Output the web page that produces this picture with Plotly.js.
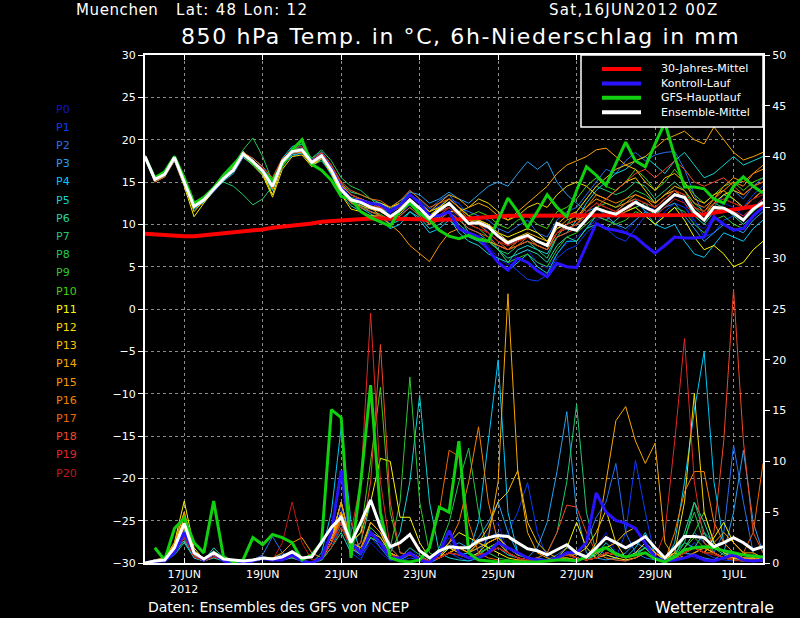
<!DOCTYPE html>
<html><head><meta charset="utf-8">
<script src="https://cdn.plot.ly/plotly-3.0.1.min.js"></script>
<style>html,body{margin:0;padding:0;background:#000;}#c{width:800px;height:618px;}</style>
</head><body><div id="c"></div>
<script>
// ---- time axis (6-hourly, 16JUN2012 00Z .. 1JUL2012 18Z) ----
const startUTC = Date.UTC(2012,5,16,0);
const nSteps = 64;
const times = [];
for (let i=0;i<nSteps;i++){ times.push(new Date(startUTC+i*6*3600e3).toISOString().slice(0,16).replace('T',' ')); }
const tickDates = ['2012-06-17','2012-06-19','2012-06-21','2012-06-23','2012-06-25','2012-06-27','2012-06-29','2012-07-01'];
const tickLabels = ['17JUN<br>2012','19JUN','21JUN','23JUN','25JUN','27JUN','29JUN','1JUL'];
const memberNames = ['P0','P1','P2','P3','P4','P5','P6','P7','P8','P9','P10','P11','P12','P13','P14','P15','P16','P17','P18','P19','P20'];
const memberColors = ['#1414c8','#0a3cf5','#2870f0','#28a0f0','#00c8f8','#14d2d2','#20d8a0','#20c870','#20c850','#30c830','#40d010','#f8f800','#f8d800','#f8c000','#f8a800','#f89800','#f88000','#f06800','#f04828','#e02828','#c01818'];
const legendNames = ['30-Jahres-Mittel','Kontroll-Lauf','GFS-Hauptlauf','Ensemble-Mittel'];
const legendColors = ['#ff0000','#2a14ff','#10d010','#ffffff'];

// ---- 850 hPa temperature, members ----
const tP0=[18.1,15.2,15.8,17.8,15.2,12.3,13.0,14.0,15.5,16.6,18.0,17.6,16.0,14.2,17.0,18.9,19.2,17.0,17.8,16.0,14.5,13.2,12.1,11.5,11.0,10.2,11.0,12.3,11.5,10.0,11.0,12.0,10.5,9.5,9.0,7.5,6.0,5.2,6.5,7.0,5.5,4.8,6.5,7.8,8.5,9.5,10.5,11.0,10.0,9.0,10.5,11.5,12.0,13.0,14.0,12.5,10.0,9.5,11.0,12.5,12.0,11.0,12.0,13.0];
const tP1=[18.0,15.4,16.0,18.0,14.8,11.9,12.8,14.2,15.3,16.2,18.5,17.2,16.5,14.8,17.6,18.4,18.6,17.6,18.4,16.8,13.8,12.5,12.8,12.4,12.0,11.2,12.3,13.5,12.8,11.5,12.2,13.0,12.5,11.0,10.5,9.0,7.0,5.5,4.5,3.5,3.3,4.0,6.0,7.0,7.5,9.0,10.0,9.5,8.5,8.0,9.5,11.0,10.0,11.5,12.5,12.0,10.5,8.5,9.0,10.5,11.0,12.0,13.5,14.5];
const tP2=[17.9,15.3,15.9,17.7,15.1,12.2,13.1,14.3,15.6,16.5,18.2,17.8,16.8,15.2,17.2,18.0,18.5,17.8,18.6,17.0,14.6,13.5,13.0,12.6,12.5,11.8,12.5,14.0,13.0,11.8,12.8,13.5,12.0,11.5,11.0,10.5,9.5,9.0,9.8,10.5,9.0,8.5,10.5,11.5,12.0,13.5,15.0,16.5,16.0,17.5,18.5,17.5,18.2,18.5,18.6,16.5,13.5,11.0,12.0,13.5,14.0,13.0,14.5,15.5];
const tP3=[18.2,15.1,15.7,17.8,14.9,12.0,12.7,13.9,15.2,16.3,18.4,17.5,16.2,14.0,17.5,18.8,19.0,17.2,18.0,16.2,14.0,13.0,12.8,12.2,11.8,11.5,12.5,13.8,13.5,12.5,13.0,13.8,13.0,12.5,13.5,14.5,15.0,14.5,16.0,17.4,16.5,17.4,15.0,13.5,12.5,11.5,12.0,11.0,10.0,9.5,10.5,11.5,11.0,12.0,12.5,11.0,9.5,8.0,9.0,10.0,9.5,9.0,10.5,11.5];
const tP4=[18.0,15.5,16.1,18.1,15.3,12.4,13.2,14.4,15.7,16.8,18.6,17.3,16.0,14.4,17.8,19.2,19.5,17.5,18.3,16.5,14.3,12.7,12.0,11.2,10.5,9.5,10.0,11.5,10.5,9.0,9.5,10.5,9.5,8.5,8.0,7.0,5.5,4.5,5.5,6.5,5.0,4.2,6.5,8.0,8.0,9.5,11.0,10.5,11.5,12.5,13.0,11.5,10.0,9.5,10.0,8.0,6.5,6.1,7.5,9.0,8.5,8.0,9.5,10.5];
const tP5=[17.8,15.2,15.8,17.6,14.7,11.8,12.6,13.8,15.1,16.0,17.9,17.0,15.8,14.1,16.9,18.2,18.4,17.0,17.7,15.8,13.5,12.2,11.5,11.0,10.8,10.0,10.5,11.5,10.8,9.5,10.0,10.8,9.0,8.0,7.5,6.5,6.0,5.5,7.0,7.5,7.0,6.5,8.5,9.0,10.5,12.5,14.0,15.0,16.0,16.5,17.5,18.0,17.0,16.0,17.5,18.5,17.0,15.5,16.0,17.0,18.0,17.0,17.5,18.0];
const tP6=[18.1,15.3,16.0,17.9,15.0,12.1,12.8,14.0,15.4,16.5,18.2,17.5,16.4,14.6,17.3,18.5,18.9,17.4,18.2,16.6,14.8,13.8,13.5,13.0,12.5,12.0,12.8,13.5,12.5,11.0,11.5,12.0,11.0,9.0,8.5,8.0,7.0,6.0,6.5,7.0,6.5,5.5,7.5,8.5,8.0,9.5,10.0,9.5,10.5,11.5,12.0,12.5,11.0,12.5,13.5,13.0,11.0,10.0,11.5,12.0,11.0,10.0,11.0,12.0];
const tP7=[18.0,15.4,16.1,18.0,15.1,12.3,13.1,14.2,15.0,14.5,13.5,12.3,13.0,14.5,17.0,18.7,18.9,17.0,17.5,16.0,13.8,12.6,12.3,11.5,11.0,10.0,11.0,12.0,11.0,10.0,11.0,11.5,10.0,9.0,8.5,8.0,7.0,6.5,7.5,8.0,7.0,6.0,8.5,10.0,11.5,13.0,14.5,14.0,13.5,14.0,15.0,14.5,13.0,14.0,15.0,14.0,12.5,11.5,12.5,13.5,13.0,12.0,13.0,14.0];
const tP8=[18.0,15.2,15.9,17.9,15.1,12.2,13.0,14.2,15.6,17.0,18.8,20.2,18.0,15.0,17.5,18.6,19.5,17.8,18.8,17.5,15.5,14.5,14.0,13.0,12.0,11.0,11.5,12.5,11.0,10.0,10.5,11.5,10.5,9.5,9.0,8.0,7.5,7.0,7.5,8.0,7.5,7.0,9.0,9.5,10.0,11.0,12.0,12.5,12.0,13.0,14.0,13.5,12.5,13.5,14.5,14.0,12.0,11.0,12.5,12.0,11.5,10.5,11.5,12.5];
const tP9=[18.0,15.3,15.9,17.8,15.0,12.0,12.9,14.1,15.4,16.4,18.3,17.3,16.3,14.4,17.4,18.5,18.7,17.2,18.0,16.3,14.0,12.5,12.0,11.5,11.2,10.5,11.5,12.5,11.5,10.5,11.0,12.0,11.0,10.0,9.5,8.5,7.0,5.5,6.0,6.5,5.5,5.0,7.0,8.5,9.0,10.0,11.0,10.5,10.0,10.5,11.5,11.0,10.0,11.0,12.0,11.5,10.0,9.0,10.5,11.0,10.0,9.5,11.0,12.0];
const tP10=[18.0,15.4,16.0,18.0,15.2,12.2,13.0,14.2,15.5,16.6,18.4,17.6,16.5,14.7,17.6,18.8,19.0,17.5,18.3,16.7,14.4,13.2,12.9,12.5,12.2,11.5,12.0,13.5,12.5,11.0,12.0,13.0,12.0,11.0,11.5,11.0,10.0,9.5,10.5,11.0,10.0,9.5,11.5,12.0,13.0,14.5,15.5,14.5,14.0,15.0,16.5,15.5,14.0,15.0,16.5,15.0,13.5,12.5,13.5,14.5,15.0,14.0,15.0,15.5];
const tP11=[18.0,15.0,15.6,17.5,14.5,10.9,12.5,14.0,15.5,16.8,18.6,17.5,16.0,13.5,17.0,18.5,18.5,17.0,18.0,16.5,14.5,13.0,13.0,12.5,12.5,12.0,12.5,13.5,12.5,11.5,12.0,12.5,11.5,10.5,10.5,10.0,9.0,8.5,9.0,9.5,9.0,8.0,9.5,10.0,10.5,11.0,12.0,11.5,11.0,11.5,12.0,11.0,10.0,11.0,12.0,10.5,8.5,7.0,7.5,6.5,5.0,5.5,7.0,8.0];
const tP12=[17.9,15.2,15.8,17.7,14.8,11.5,12.8,14.0,15.4,16.2,18.0,17.0,15.8,13.2,16.5,18.0,18.2,16.8,17.8,16.0,13.5,11.8,11.5,11.0,11.0,10.5,11.5,12.5,11.5,10.0,10.8,11.5,11.5,12.0,13.0,12.5,11.5,10.5,11.0,12.0,12.5,12.0,13.5,14.5,15.0,14.5,13.5,13.0,14.0,15.0,15.5,14.0,12.5,13.5,14.0,13.0,11.5,11.0,12.5,13.5,14.0,13.5,14.5,15.0];
const tP13=[18.0,15.3,15.9,17.9,15.0,12.0,12.8,14.0,15.3,16.3,18.2,17.3,16.2,14.3,17.2,18.4,18.8,17.2,18.2,16.5,14.0,12.5,12.2,11.8,11.5,10.8,11.2,12.5,11.8,11.0,12.0,13.0,12.0,11.0,10.5,10.0,9.0,8.0,8.5,9.0,8.5,8.0,10.0,11.0,11.5,13.0,14.5,15.5,16.5,17.0,16.5,15.0,14.0,15.5,16.0,15.0,13.0,12.5,13.5,14.0,13.0,12.0,13.0,14.0];
const tP14=[18.1,15.4,16.0,18.0,15.1,12.3,13.1,14.2,15.5,16.5,18.4,17.4,16.4,14.6,17.5,18.7,18.9,17.4,18.1,16.4,14.6,13.5,13.0,12.5,12.0,11.5,12.5,13.5,12.5,11.5,12.5,13.5,13.0,12.0,12.5,12.0,11.0,10.5,11.5,12.5,13.5,14.5,16.0,17.0,17.5,18.0,18.8,19.0,18.0,17.0,17.5,18.0,19.0,20.0,20.5,21.0,20.0,19.5,21.5,20.0,18.5,17.6,18.0,18.5];
const tP15=[18.0,15.2,15.7,17.8,14.9,12.0,12.9,14.1,15.3,16.2,18.1,17.2,16.2,14.2,17.0,18.4,18.5,17.0,17.9,16.2,14.2,12.8,12.5,12.0,11.0,10.0,9.0,7.5,6.5,5.6,7.5,9.0,9.5,9.0,8.5,8.0,7.5,7.0,8.0,8.5,8.0,7.5,9.5,10.5,11.0,12.0,13.0,12.5,12.0,12.5,13.5,13.0,12.0,13.0,14.0,13.5,12.0,11.5,13.0,14.5,15.5,15.0,16.0,16.5];
const tP16=[18.0,15.3,15.8,17.9,15.0,12.1,12.9,14.0,15.4,16.4,18.2,17.4,16.3,14.5,17.3,18.6,18.7,17.3,18.0,16.3,14.2,13.0,12.8,12.2,11.9,11.0,11.8,13.0,12.0,11.0,11.5,12.5,11.5,10.5,10.0,9.5,8.5,7.5,8.0,8.5,7.5,7.0,9.0,10.0,10.5,12.0,13.5,13.0,12.5,13.0,13.5,13.0,12.5,13.5,14.5,14.0,12.5,12.0,13.0,14.0,15.0,14.5,16.0,17.0];
const tP17=[17.8,15.0,15.6,17.6,14.8,12.0,12.9,14.2,15.5,16.6,18.5,17.8,16.8,15.5,17.8,18.6,18.5,17.6,18.5,17.0,15.0,14.0,13.5,13.0,12.8,12.0,12.8,14.0,13.0,12.0,12.5,13.0,12.0,10.5,10.0,9.0,8.0,7.0,7.5,8.5,8.0,7.5,9.0,9.5,10.0,11.5,12.5,12.0,11.5,12.5,13.0,12.5,12.0,13.0,14.0,13.0,11.5,11.0,12.5,13.0,12.5,12.0,13.0,14.0];
const tP18=[18.0,15.2,15.8,17.9,15.1,12.1,12.9,14.1,15.4,16.3,18.2,17.3,16.1,14.3,17.2,18.5,18.7,17.2,18.0,16.2,14.0,12.5,12.0,11.5,11.0,10.5,11.0,12.0,11.0,10.0,10.5,11.5,10.5,9.5,9.0,8.5,7.5,7.0,7.5,8.0,7.5,7.0,8.5,9.0,9.5,10.5,12.0,13.0,14.0,15.0,16.0,16.5,15.5,16.5,17.5,16.5,15.0,14.5,15.0,15.5,14.5,13.5,14.5,15.0];
const tP19=[18.0,15.3,15.9,17.9,15.0,12.0,12.8,14.0,15.3,16.4,18.3,17.5,16.6,15.0,17.6,19.0,19.2,17.5,18.5,17.0,14.8,13.5,13.0,12.5,12.0,11.5,12.0,13.0,12.0,11.0,11.5,12.0,11.0,10.0,9.5,9.0,8.0,7.5,8.0,8.5,8.0,7.5,9.0,9.5,10.0,11.0,12.0,11.5,11.0,11.5,12.5,12.0,11.0,12.0,13.0,12.5,11.0,10.5,11.5,12.0,11.5,11.0,12.0,13.0];
const tP20=[18.0,15.3,15.9,17.8,15.0,12.2,13.0,14.1,15.4,16.4,18.2,17.3,16.4,14.5,17.3,18.5,18.8,17.3,18.0,16.4,14.2,13.0,12.5,12.0,11.5,11.0,11.5,12.5,11.5,10.5,11.0,12.0,11.0,10.0,9.5,9.0,8.0,7.5,8.0,8.5,8.0,7.5,9.0,10.0,10.5,11.5,12.5,12.0,11.5,12.0,13.0,12.5,12.0,13.0,14.0,13.5,12.0,11.5,12.5,13.0,12.5,12.0,13.0,13.5];

// ---- 850 hPa temperature, thick lines ----
const tClim=[8.9,8.8,8.7,8.6,8.6,8.6,8.7,8.8,8.9,9.0,9.1,9.3,9.4,9.6,9.7,9.9,10.0,10.1,10.3,10.4,10.5,10.6,10.6,10.7,10.7,10.7,10.7,10.6,10.6,10.5,10.5,10.5,10.6,10.7,10.8,10.9,11.0,11.0,11.0,11.0,11.0,11.0,11.0,11.0,11.0,11.0,11.0,11.0,11.0,11.0,11.0,11.0,11.0,11.0,11.0,11.0,11.1,11.2,11.4,11.6,11.8,12.0,12.1,12.3];
const tCtrl=[18.0,15.3,15.9,17.9,15.0,12.2,13.0,14.1,15.4,16.4,18.2,17.3,16.3,14.6,17.3,18.6,18.8,17.4,18.1,16.5,14.3,13.0,12.8,12.5,12.3,11.5,12.3,13.5,12.5,11.0,11.0,11.5,9.5,9.0,8.5,7.0,5.5,4.6,6.0,5.5,4.5,3.8,5.4,5.0,4.9,7.5,10.1,9.5,9.3,9.0,8.5,7.5,6.6,7.5,8.5,8.4,8.4,8.5,10.9,10.0,9.3,9.5,11.0,12.0];
const tGfs=[18.0,15.5,16.2,18.0,15.5,12.5,13.2,14.3,15.8,17.0,18.3,17.2,16.2,15.2,17.0,18.8,20.0,17.1,16.4,15.2,13.3,13.0,11.5,10.8,10.3,9.8,11.7,12.5,11.3,10.5,9.3,8.6,8.3,8.7,8.2,8.0,10.5,13.1,11.5,9.6,11.5,13.5,12.0,10.9,14.0,16.8,15.8,14.6,17.2,19.7,17.5,16.8,19.5,22.0,18.0,14.4,14.4,14.2,13.0,12.5,14.5,15.6,14.5,13.7];
const tMean=[18.0,15.3,15.9,17.9,15.0,12.1,12.9,14.1,15.4,16.4,18.3,17.4,16.3,14.5,17.4,18.6,18.8,17.3,18.1,16.4,14.1,12.9,12.6,12.0,11.7,10.9,11.7,12.9,11.9,10.7,11.7,12.5,11.3,10.1,10.2,9.7,8.6,7.8,8.3,8.7,8.0,7.5,10.1,9.6,9.3,10.6,11.9,11.5,11.2,11.9,12.6,12.0,11.5,12.5,13.5,13.2,11.5,10.5,12.0,11.9,11.3,10.5,11.8,12.6];

// ---- 6h precipitation (mm), members ----
const rP0=[0,0,0.3,1.5,3.5,0.8,0.2,0.8,0.2,0,0,0.2,0.3,0.2,0.5,0.8,0.3,0,0.5,2.0,5.5,1.5,0.5,2.0,1.0,0.2,0.5,1.5,0.5,0,0.8,2.5,1.0,0.5,1.5,3.0,4.0,1.0,0.5,0.2,0.5,0.2,0.5,0.3,0.5,0.8,1.5,3.0,1.0,0.5,1.0,2.0,0.5,0,0.5,1.0,0.5,0.3,0.2,0.5,1.0,0.5,0.3,0.5];
const rP1=[0,0.1,0.2,1.0,2.5,0.5,0.2,0.5,0.3,0,0,0.3,0.6,0.5,0.4,0.6,0.2,0,0.3,1.5,4.0,1.0,0.3,2.5,1.5,0.5,0.2,0.5,0.3,0,0.5,1.0,0.5,0.2,0.5,1.0,2.0,3.0,5.0,7.9,3.0,0.5,0.3,0.2,0.3,0.5,1.5,0.8,0.5,3.0,10.1,5.0,0.5,0,0.5,1.0,2.0,1.0,0.5,0.3,0.2,0.5,0.3,0.2];
const rP2=[0,0.2,0.3,1.2,3.0,0.8,0.3,0.8,0.5,0.2,0,0.3,0.8,2.6,1.0,0.5,0.2,0,0.5,2.5,6.0,1.5,0.8,3.0,1.5,0.3,0.5,1.0,0.5,0.2,1.0,2.0,1.0,0.5,1.0,2.5,3.0,1.0,0.5,0.3,0.5,0.3,0.8,1.5,1.0,2.0,4.5,6.0,9.8,3.0,1.0,0.5,0.3,0.2,0.5,1.5,3.0,2.0,1.0,3.0,11.6,6.0,1.0,0.5];
const rP3=[0,0.2,0.2,1.0,2.5,0.5,0.2,1.0,0.5,0.2,0,0.2,0.5,0.5,0.8,1.0,0.3,0,0.3,2.0,5.0,2.0,1.0,4.0,3.0,1.0,0.5,1.0,0.3,0,0.5,1.5,2.0,1.5,2.5,4.0,6.0,3.0,1.0,0.5,1.5,4.0,9.0,14.9,5.0,1.0,0.5,0.3,0.5,1.0,2.0,1.5,0.5,0.2,0.5,1.0,0.8,0.5,0.3,1.0,5.0,11.1,4.0,1.0];
const rP4=[0,0.1,0.3,1.2,2.8,0.8,0.2,0.6,0.3,0,0,0.2,0.5,0.3,0.4,0.7,0.2,0,1.0,5.0,13.4,4.0,1.0,3.0,2.0,0.5,0.3,0.8,0.3,0,0.5,1.0,0.8,1.0,4.0,12.0,20.0,5.0,1.0,0.5,0.3,0.2,0.5,1.0,0.5,0.3,1.0,1.5,1.0,0.5,1.5,3.0,1.0,0.2,2.0,8.0,15.0,20.8,8.0,2.0,1.0,0.5,0.8,0.5];
const rP5=[0,0.2,0.2,0.8,2.0,0.5,0.2,1.5,0.5,0.2,0,0.3,0.5,0.3,0.5,0.8,0.3,0,0.5,2.0,4.0,1.5,0.8,2.5,2.0,1.0,3.0,8.0,16.5,6.0,1.0,0.5,0.3,0.2,0.5,1.0,1.5,0.8,0.5,0.3,0.2,0.2,0.5,1.0,0.5,0.3,0.8,2.0,1.0,0.5,1.0,1.5,0.5,0.2,1.0,2.0,1.5,3.0,2.0,1.0,0.8,0.5,0.5,0.3];
const rP6=[0,0.1,0.2,1.0,2.2,0.6,0.2,0.5,0.2,0,0,0.2,0.4,0.3,0.3,0.5,0.2,0,0.3,1.5,3.0,1.0,2.0,6.0,4.0,1.5,0.5,1.0,0.5,0.2,0.5,1.0,1.5,1.0,1.5,2.0,2.5,1.5,0.8,0.5,0.3,0.2,0.5,0.8,0.5,0.3,0.5,1.0,0.8,0.5,0.8,1.5,0.5,0.2,0.5,3.0,6.0,4.0,1.5,0.8,0.5,0.3,0.5,0.3];
const rP7=[0,0.2,0.3,1.3,3.2,0.8,0.3,1.0,0.4,0.1,0,0.3,0.5,0.4,0.6,1.0,0.3,0,0.5,2.5,6.0,2.0,1.0,3.5,2.5,1.0,0.5,1.5,0.8,0.2,0.8,1.5,1.0,0.5,1.0,1.5,2.0,1.0,0.5,0.3,0.5,1.0,3.0,8.0,15.6,5.0,1.0,0.5,0.3,0.2,0.5,1.0,0.5,0.2,0.5,2.0,6.0,3.0,1.0,0.5,0.3,0.2,0.3,0.2];
const rP8=[0,0.2,0.2,1.0,2.5,0.6,0.2,0.8,0.3,0,0,0.2,0.4,0.3,0.5,0.7,0.2,0,0.4,2.0,4.5,1.5,1.0,3.0,2.0,0.8,0.5,1.0,0.5,0.2,1.5,4.0,8.0,11.3,5.0,1.0,0.5,0.3,0.2,0.2,0.3,0.2,0.5,1.0,0.5,0.3,0.8,1.5,1.0,0.5,0.8,1.0,0.5,0.2,0.8,2.5,5.0,2.0,1.0,0.5,0.3,0.2,0.3,0.2];
const rP9=[0,0.2,0.3,1.2,2.8,0.7,0.2,0.6,0.3,0,0,0.2,0.4,0.3,0.4,0.6,0.2,0,0.3,1.5,3.5,1.5,1.0,2.5,2.0,1.5,6.0,18.3,6.0,1.0,0.5,1.0,0.8,0.5,0.8,1.5,2.0,1.0,0.5,0.3,0.2,0.2,0.5,0.8,0.5,0.3,0.5,1.0,0.8,0.5,0.8,1.5,0.5,0.2,0.5,1.5,3.0,5.0,2.0,1.0,0.5,0.3,0.3,0.2];
const rP10=[0,0.2,0.3,1.5,3.5,1.0,0.3,1.2,0.5,0.1,0,0.3,0.6,0.5,0.5,0.8,0.3,0,0.5,2.0,5.0,2.0,3.0,10.0,17.3,5.0,1.0,0.8,0.5,0.2,0.5,1.0,0.8,0.5,0.8,1.5,2.0,1.0,0.5,0.3,0.2,0.2,0.5,1.0,0.5,0.3,0.5,1.5,1.0,0.5,0.8,1.0,0.5,0.2,0.5,1.5,2.5,1.5,1.0,0.5,0.3,0.2,0.3,0.2];
const rP11=[0,0.3,0.5,2.0,6.1,1.5,0.3,1.0,0.3,0.1,0,0.2,0.5,0.3,0.5,0.8,0.3,0,0.5,2.5,5.0,2.0,3.0,6.0,10.3,10.0,4.5,4.5,2.0,0.5,1.0,2.0,3.0,2.5,2.0,1.5,1.0,0.5,0.3,0.2,0.3,0.2,0.5,1.5,4.0,1.5,0.5,0.8,0.5,0.3,0.5,1.0,0.5,0.2,0.5,1.0,1.5,1.0,2.5,4.0,2.0,1.0,0.5,0.3];
const rP12=[0,0.2,0.4,1.8,5.0,1.2,0.3,0.8,0.3,0,0,0.2,0.4,0.3,0.6,1.0,0.3,0,0.5,2.0,4.5,1.5,1.0,4.0,3.0,1.0,0.5,1.0,0.5,0.2,0.5,1.5,1.0,0.5,1.0,2.0,2.5,1.5,0.8,0.5,0.3,0.2,0.5,1.0,0.8,1.5,3.0,5.2,2.0,0.5,1.0,2.0,1.0,0.3,1.0,6.0,16.7,5.0,2.0,1.0,0.5,0.3,0.5,0.3];
const rP13=[0,0.3,0.4,1.6,4.5,1.0,0.3,0.8,0.3,0,0,0.2,0.5,0.3,0.5,0.8,0.3,0,0.5,2.5,6.0,2.0,1.5,3.0,2.5,1.0,0.5,1.0,0.5,0.2,0.5,1.0,1.5,1.0,2.0,3.5,6.0,7.0,9.1,4.0,2.0,1.0,0.5,0.5,0.3,0.5,1.0,1.5,2.0,3.0,3.5,2.0,1.0,0.5,1.0,0.5,1.0,1.5,1.0,0.5,1.0,0.5,0.3,0.3];
const rP14=[0,0.2,0.3,1.4,3.8,0.9,0.3,0.8,0.3,0,0,0.2,0.4,0.3,0.5,0.8,0.3,0,0.5,2.0,5.0,1.5,1.0,3.0,2.0,0.8,0.5,1.0,0.5,0.2,0.5,1.0,1.5,1.0,2.0,2.5,8.0,26.5,9.0,3.0,1.0,0.5,0.3,0.5,0.3,0.5,2.0,8.0,14.0,15.4,12.0,9.8,11.8,2.0,0.5,0.5,1.0,1.5,1.0,0.5,0.5,0.5,0.3,0.3];
const rP15=[0,0.3,0.5,2.0,5.0,1.2,0.3,1.0,0.5,0.2,0,0.3,0.5,0.5,1.0,2.0,2.5,1.0,0.5,2.5,6.0,2.0,1.5,4.0,3.0,1.0,0.5,1.0,0.5,0.2,0.5,1.0,1.5,1.0,1.5,2.0,2.5,1.5,1.0,0.5,0.3,0.2,0.5,1.0,0.5,0.3,0.5,1.0,0.8,0.5,0.8,1.0,0.5,0.2,0.5,1.0,1.5,1.0,2.0,3.0,2.0,1.0,1.0,0.5];
const rP16=[0,0.2,0.4,1.5,4.0,1.0,0.3,0.8,0.3,0,0,0.2,0.4,0.3,0.5,0.8,0.3,0,0.5,2.0,5.0,1.5,1.0,3.0,2.0,0.8,0.5,1.0,0.5,0.2,0.5,2.0,4.0,8.0,13.4,6.0,2.0,1.0,0.5,0.3,0.2,0.2,0.5,1.0,0.5,0.3,0.5,1.0,0.8,0.5,0.8,1.0,0.5,0.2,3.0,7.0,9.0,9.0,4.0,2.0,1.0,0.5,0.5,0.3];
const rP17=[0,0.2,0.3,1.3,3.5,0.8,0.3,0.8,0.3,0,0,0.2,0.4,0.3,0.5,0.8,0.3,0,0.5,2.0,4.5,1.5,1.0,3.0,2.0,0.8,0.5,1.0,0.5,1.5,5.0,11.1,10.5,4.0,1.0,0.5,0.3,0.2,0.3,0.2,0.2,0.2,0.5,1.0,0.5,0.3,0.5,1.0,0.8,0.5,0.8,1.0,0.5,0.2,0.5,1.0,1.5,1.0,1.0,0.5,0.5,1.0,3.0,9.8];
const rP18=[0,0.2,0.3,1.2,3.0,0.8,0.3,0.8,0.3,0,0,0.2,0.4,0.3,0.5,0.8,0.3,0,0.5,2.0,4.0,1.5,2.0,8.0,21.5,6.0,1.0,0.8,0.5,0.2,0.5,1.0,0.8,0.5,0.8,1.0,1.5,1.0,0.5,0.3,0.5,1.0,3.0,5.7,5.5,3.0,1.0,0.5,0.3,0.2,0.5,1.0,0.5,0.2,0.5,1.0,1.5,1.0,3.0,12.0,26.9,12.0,3.0,1.0];
const rP19=[0,0.2,0.3,1.0,2.5,0.6,0.2,0.6,0.3,0,0,0.2,0.4,0.3,0.4,0.6,0.2,0,0.5,2.0,4.0,3.0,8.0,24.6,8.0,1.5,0.5,0.8,0.5,0.2,0.5,1.0,0.8,0.5,0.8,1.0,1.5,1.0,0.5,0.3,0.2,0.2,0.5,0.8,0.5,0.3,0.5,1.0,0.8,0.5,0.8,1.0,0.5,3.0,12.0,22.1,8.0,2.0,1.0,0.5,0.3,0.2,0.3,0.2];
const rP20=[0,0.2,0.3,1.0,2.5,0.6,0.2,0.6,0.3,0,0,0.2,0.4,0.3,2.0,6.0,2.0,0.3,0.5,1.5,3.5,1.5,1.0,3.0,2.0,0.8,0.5,1.0,0.5,0.2,0.5,1.0,0.8,0.5,0.8,1.0,1.5,1.0,0.5,0.3,0.2,0.2,0.5,0.8,0.5,0.3,0.5,1.0,0.8,0.5,0.8,1.0,0.5,0.2,0.5,1.0,1.5,1.0,0.8,0.5,0.3,0.2,0.3,0.2];

// ---- 6h precipitation (mm), thick lines ----
const rCtrl=[0,0.2,0.2,1.0,3.0,1.0,0.3,1.0,0.2,0,0,0.2,0.5,0.3,0.3,0.8,0.2,0,0.5,3.0,9.1,2.0,1.0,3.0,2.0,0.5,0.5,1.0,0.3,0,1.0,3.2,1.0,0.5,0.5,1.0,2.0,1.5,1.0,0.5,0.3,0.2,0.5,1.0,1.0,2.0,6.9,5.0,4.2,3.9,3.4,2.0,0.5,0.2,0.3,0.5,0.8,0.3,0.2,0.5,0.8,0.3,0.2,0.3];
const rGfs=[null,1.5,0.3,3.4,4.4,2.0,1.0,6.1,0.6,0.1,0.3,2.5,1.8,2.8,2.5,2.0,0.3,0.8,2.0,15.1,14.3,0.5,8.0,17.5,5.0,0.5,0.2,0.1,0.3,1.5,5.5,5.0,12.0,1.0,0.3,0.2,0.1,0.2,0.1,0.1,0.1,0.2,0.3,0.3,0.2,0.6,1.2,1.5,0.9,0.6,0.8,1.0,0.4,0.1,0.6,1.3,1.5,1.6,1.5,1.2,1.0,0.8,0.7,0.6];
const rMean=[0,0.2,0.3,1.5,3.9,1.0,0.4,1.0,0.4,0.3,0.2,0.3,0.5,0.4,0.6,1.1,0.5,0.6,2.0,3.5,4.5,2.0,4.0,6.2,3.5,1.6,2.0,2.8,1.2,0.5,1.2,1.6,1.5,1.5,2.2,2.5,2.7,2.6,2.0,1.4,1.2,0.8,1.3,1.8,1.0,0.6,1.5,2.5,2.0,1.5,2.0,2.6,1.5,0.5,1.5,2.6,2.6,2.5,1.6,2.0,2.5,2.0,1.3,1.6];

const tempMembers=[tP0,tP1,tP2,tP3,tP4,tP5,tP6,tP7,tP8,tP9,tP10,tP11,tP12,tP13,tP14,tP15,tP16,tP17,tP18,tP19,tP20];
const precMembers=[rP0,rP1,rP2,rP3,rP4,rP5,rP6,rP7,rP8,rP9,rP10,rP11,rP12,rP13,rP14,rP15,rP16,rP17,rP18,rP19,rP20];

const FONT = 'DejaVu Sans, Liberation Sans, sans-serif';
const traces = [];
precMembers.forEach((v,k)=>traces.push({x:times,y:v,yaxis:'y2',type:'scatter',mode:'lines',line:{color:memberColors[k],width:1},showlegend:false,hoverinfo:'skip'}));
tempMembers.forEach((v,k)=>traces.push({x:times,y:v,type:'scatter',mode:'lines',line:{color:memberColors[k],width:1},showlegend:false,hoverinfo:'skip'}));
traces.push({x:times,y:rCtrl,yaxis:'y2',mode:'lines',line:{color:legendColors[1],width:3},showlegend:false});
traces.push({x:times,y:rGfs,yaxis:'y2',mode:'lines',line:{color:legendColors[2],width:3},showlegend:false});
traces.push({x:times,y:rMean,yaxis:'y2',mode:'lines',line:{color:legendColors[3],width:3},showlegend:false});
traces.push({x:times,y:tClim,mode:'lines',name:legendNames[0],line:{color:legendColors[0],width:4},showlegend:false});
traces.push({x:times,y:tCtrl,mode:'lines',name:legendNames[1],line:{color:legendColors[1],width:3},showlegend:false});
traces.push({x:times,y:tGfs,mode:'lines',name:legendNames[2],line:{color:legendColors[2],width:3},showlegend:false});
traces.push({x:times,y:tMean,mode:'lines',name:legendNames[3],line:{color:legendColors[3],width:3},showlegend:false});

// plot area in pixels: x 145..763, y 55..563
const L=145,R=763,T=55,B=563;
const px=(x)=>(x-L)/(R-L), py=(y)=>(B-y)/(B-T);
const ann=[], shapes=[];
const sp=(s,t)=>'<span style="letter-spacing:'+s+'px">'+t+'</span>';
memberNames.forEach((n,k)=>ann.push({xref:'paper',yref:'paper',x:px(54),y:py(109+k*18.2),xanchor:'left',yanchor:'middle',text:n,showarrow:false,font:{family:FONT,size:11,color:memberColors[k]}}));
ann.push({xref:'paper',yref:'paper',x:px(74),y:py(10.5),xanchor:'left',yanchor:'middle',text:sp(0.6,'Muenchen'),showarrow:false,font:{family:FONT,size:15,color:'#fff'}});
ann.push({xref:'paper',yref:'paper',x:px(174),y:py(10.5),xanchor:'left',yanchor:'middle',text:sp(1.3,'Lat: 48 Lon: 12'),showarrow:false,font:{family:FONT,size:15,color:'#fff'}});
ann.push({xref:'paper',yref:'paper',x:px(720),y:py(10.5),xanchor:'right',yanchor:'middle',text:sp(1.3,'Sat,16JUN2012 00Z'),showarrow:false,font:{family:FONT,size:15,color:'#fff'}});
ann.push({xref:'paper',yref:'paper',x:px(460),y:py(36),xanchor:'center',yanchor:'middle',text:sp(1.6,'850 hPa Temp. in °C, 6h-Niederschlag in mm'),showarrow:false,font:{family:FONT,size:22,color:'#fff'}});
ann.push({xref:'paper',yref:'paper',x:px(146),y:py(607),xanchor:'left',yanchor:'middle',text:'Daten: Ensembles des GFS von NCEP',showarrow:false,font:{family:FONT,size:14,color:'#fff'}});
ann.push({xref:'paper',yref:'paper',x:px(776),y:py(607),xanchor:'right',yanchor:'middle',text:'Wetterzentrale',showarrow:false,font:{family:FONT,size:16,color:'#fff'}});

// legend box (drawn as layout decoration so row spacing matches)
shapes.push({type:'rect',xref:'paper',yref:'paper',x0:px(581),x1:px(763),y0:py(127),y1:py(55),line:{color:'#fff',width:1.5},fillcolor:'#000',layer:'above'});
legendNames.forEach((n,k)=>{
  const yy = 69 + k*14.4;
  shapes.push({type:'line',xref:'paper',yref:'paper',x0:px(602),x1:px(641),y0:py(yy),y1:py(yy),line:{color:legendColors[k],width:4},layer:'above'});
  ann.push({xref:'paper',yref:'paper',x:px(659),y:py(yy),xanchor:'left',yanchor:'middle',text:n,showarrow:false,font:{family:FONT,size:11,color:'#fff'}});
});

const layout = {
  width:800,height:618,
  margin:{l:L,r:800-R,t:T,b:618-B,pad:0},
  paper_bgcolor:'#000',plot_bgcolor:'#000',
  font:{family:FONT,color:'#fff',size:11},
  showlegend:false,
  xaxis:{type:'date',range:[times[0],times[nSteps-1]],tickmode:'array',tickvals:tickDates,ticktext:tickLabels,
         showgrid:true,gridcolor:'#8c8c8c',griddash:'dot',gridwidth:1,
         showline:true,linecolor:'#fff',linewidth:2,mirror:'ticks',ticks:'inside',ticklen:5,tickcolor:'#fff',
         tickfont:{family:FONT,size:11,color:'#fff'},zeroline:false,fixedrange:true},
  yaxis:{range:[-30,30],dtick:5,tick0:-30,showgrid:true,gridcolor:'#8c8c8c',griddash:'dot',gridwidth:1,zeroline:false,
         showline:true,linecolor:'#fff',linewidth:2,ticks:'outside',ticklen:5,tickcolor:'#fff',
         tickfont:{family:FONT,size:11,color:'#fff'},fixedrange:true},
  yaxis2:{range:[0,50],dtick:5,tick0:0,overlaying:'y',side:'right',showgrid:false,zeroline:false,
          showline:true,linecolor:'#fff',linewidth:2,ticks:'outside',ticklen:5,tickcolor:'#fff',
          tickfont:{family:FONT,size:11,color:'#fff'},fixedrange:true},
  shapes:shapes,
  annotations:ann
};
Plotly.newPlot('c',traces,layout,{staticPlot:true,displayModeBar:false});
</script></body></html>
